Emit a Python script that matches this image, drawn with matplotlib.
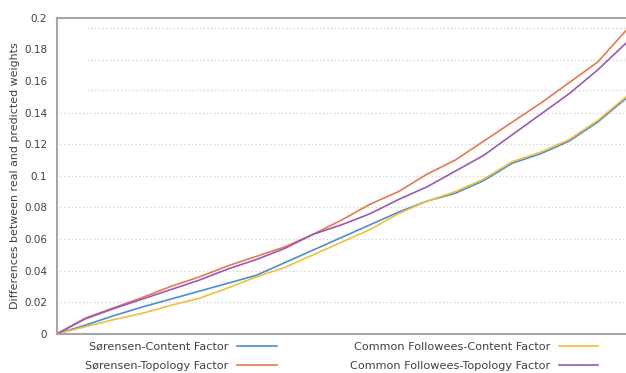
import matplotlib.pyplot as plt
import numpy as np

# share of the test set (no labels on the x axis in the original)
x = [0, 5, 10, 15, 20, 25, 30, 35, 40, 45, 50,
     55, 60, 65, 70, 75, 80, 85, 90, 95, 100]

sorensen_content = [0, 0.0055, 0.0115, 0.017, 0.022, 0.027, 0.032, 0.037, 0.045, 0.053, 0.061,
                    0.069, 0.077, 0.084, 0.089, 0.097, 0.108, 0.114, 0.122, 0.134, 0.149]
sorensen_topology = [0, 0.010, 0.0165, 0.023, 0.030, 0.036, 0.043, 0.049, 0.055, 0.063, 0.072,
                     0.082, 0.090, 0.101, 0.110, 0.122, 0.134, 0.146, 0.159, 0.172, 0.192]
common_content = [0, 0.0045, 0.009, 0.013, 0.018, 0.0225, 0.029, 0.036, 0.042, 0.050, 0.058,
                  0.066, 0.076, 0.084, 0.090, 0.098, 0.109, 0.115, 0.123, 0.135, 0.150]
common_topology = [0, 0.0095, 0.016, 0.022, 0.028, 0.034, 0.041, 0.047, 0.054, 0.063, 0.069,
                   0.076, 0.085, 0.093, 0.103, 0.113, 0.126, 0.139, 0.152, 0.167, 0.184]

series = [
    ("Sørensen-Content Factor", sorensen_content, "#4a8fd0"),
    ("Common Followees-Content Factor", common_content, "#f2bf3a"),
    ("Sørensen-Topology Factor", sorensen_topology, "#e8794a"),
    ("Common Followees-Topology Factor", common_topology, "#9b59b6"),
]

yticks = [0, 0.02, 0.04, 0.06, 0.08, 0.1, 0.12, 0.14, 0.16, 0.18, 0.2]
ytick_labels = ["0", "0.02", "0.04", "0.06", "0.08", "0.1", "0.12", "0.14", "0.16", "0.18", "0.2"]

text_color = "#404040"
spine_color = "#a6a6a6"

fig = plt.figure(figsize=(6.26, 3.73), dpi=100)
ax = fig.add_axes([0.091, 0.105, 0.909, 0.847])

for label, values, color in series:
    ax.plot(x, values, color=color, lw=1.2, label=label)

ax.set_xlim(0, 100)
ax.set_ylim(0, 0.2)
ax.set_xticks([])
ax.set_yticks(yticks)
ax.set_yticklabels(ytick_labels)
ax.tick_params(axis="y", length=0, pad=7, labelsize=7.5, labelcolor=text_color)
ax.set_ylabel("Differences between real and predicted weights", fontsize=7.9,
              color=text_color, labelpad=3)

# dotted grid; the upper three lines sit a bit off the ticks in the original
for yv in [0.02, 0.04, 0.06, 0.08, 0.1, 0.12, 0.14]:
    ax.axhline(yv, xmin=0.005, color="#d0d0d0", lw=0.9, ls=(0, (1, 2)), zorder=0)
for yv in [0.1545, 0.1735, 0.1935]:
    ax.axhline(yv, xmin=0.053, color="#d0d0d0", lw=0.9, ls=(0, (1, 2)), zorder=0)

for side in ["left", "bottom", "top"]:
    ax.spines[side].set_color(spine_color)
    ax.spines[side].set_linewidth(1.5)
ax.spines["right"].set_visible(False)

handles, labels = ax.get_legend_handles_labels()
order = [0, 2, 1, 3]
fig.legend([handles[i] for i in order], [labels[i] for i in order],
           loc="upper center", bbox_to_anchor=(0.546, 0.105), ncol=2,
           frameon=False, markerfirst=False, fontsize=8.1, handlelength=3.5,
           handletextpad=0.8, columnspacing=6.5, labelspacing=0.85,
           labelcolor=text_color, borderpad=0.2)

fig.savefig("out.png", dpi=100)
